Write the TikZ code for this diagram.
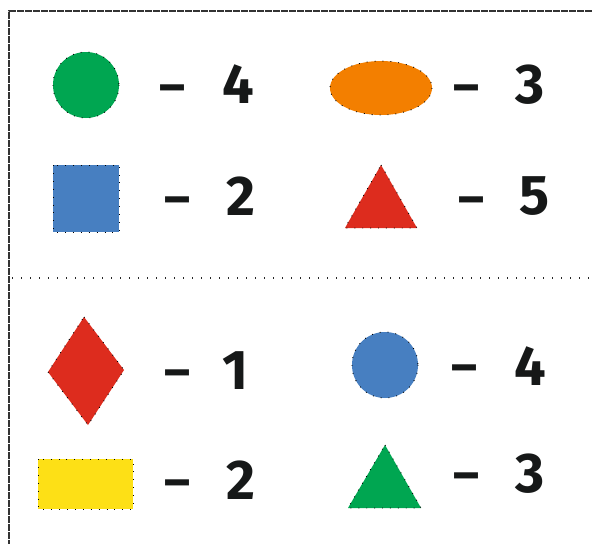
\documentclass[tikz,border=0pt]{standalone}
\usepackage{fontspec}
\setmainfont{Fira Sans}
\definecolor{cgreen}{RGB}{0,166,81}
\definecolor{corange}{RGB}{243,127,0}
\definecolor{cblue}{RGB}{71,127,193}
\definecolor{cred}{RGB}{221,44,30}
\definecolor{cyellow}{RGB}{253,224,22}
\definecolor{ink}{RGB}{22,24,24}
\tikzset{
  shp/.style={draw=black, line width=0.9pt, dash pattern=on 0.9pt off 7pt},
  dsh/.style={font=\fontsize{50}{60}\selectfont\bfseries, text=ink, inner sep=0pt, anchor=base},
  num/.style={font=\fontsize{56}{64}\selectfont\bfseries, text=ink, inner sep=0pt, anchor=base},
  frame/.style={draw=black!80, line width=1.2pt, dash pattern=on 7pt off 1pt},
  sep/.style={draw=black!85, line width=1.4pt, dash pattern=on 1.4pt off 7.6pt}
}
\begin{document}
\begin{tikzpicture}[x=1pt,y=-1pt]
\useasboundingbox (0,0) rectangle (592,544);
% frame
\draw[frame] (592,11) -- (9,11) -- (9,544);
\draw[sep] (12,278) -- (592,278);
% row 1
\draw[shp, fill=cgreen] (86,85) circle (33);
\node[dsh] (d1) at (172,103) {–};
\node[num] (n1) at (238,103) {4};
\draw[shp, fill=corange] (381,88) ellipse (51 and 27);
\node[dsh] (d2) at (466,103) {–};
\node[num] (n2) at (530,103) {3};
% row 2
\draw[shp, fill=cblue] (53,165) rectangle (119,232);
\node[dsh] (d3) at (177,215) {–};
\node[num] (n3) at (241,215) {2};
\draw[shp, fill=cred] (381,165) -- (417,228) -- (345,228) -- cycle;
\node[dsh] (d4) at (471,215) {–};
\node[num] (n4) at (535,214) {5};
% row 3
\draw[shp, fill=cred] (84,317) -- (124,370) -- (88,425) -- (48,372) -- cycle;
\node[dsh] (d5) at (177,388) {–};
\node[num] (n5) at (235,389) {1};
\draw[shp, fill=cblue] (385,365) circle (33);
\node[dsh] (d6) at (464,383) {–};
\node[num] (n6) at (530,385) {4};
% row 4
\draw[shp, fill=cyellow] (38,459) rectangle (133,509);
\node[dsh] (d7) at (177,498) {–};
\node[num] (n7) at (241,499) {2};
\draw[shp, fill=cgreen] (385,445) -- (421,508) -- (348,508) -- cycle;
\node[dsh] (d8) at (466,491) {–};
\node[num] (n8) at (530,492) {3};
\end{tikzpicture}
\end{document}
